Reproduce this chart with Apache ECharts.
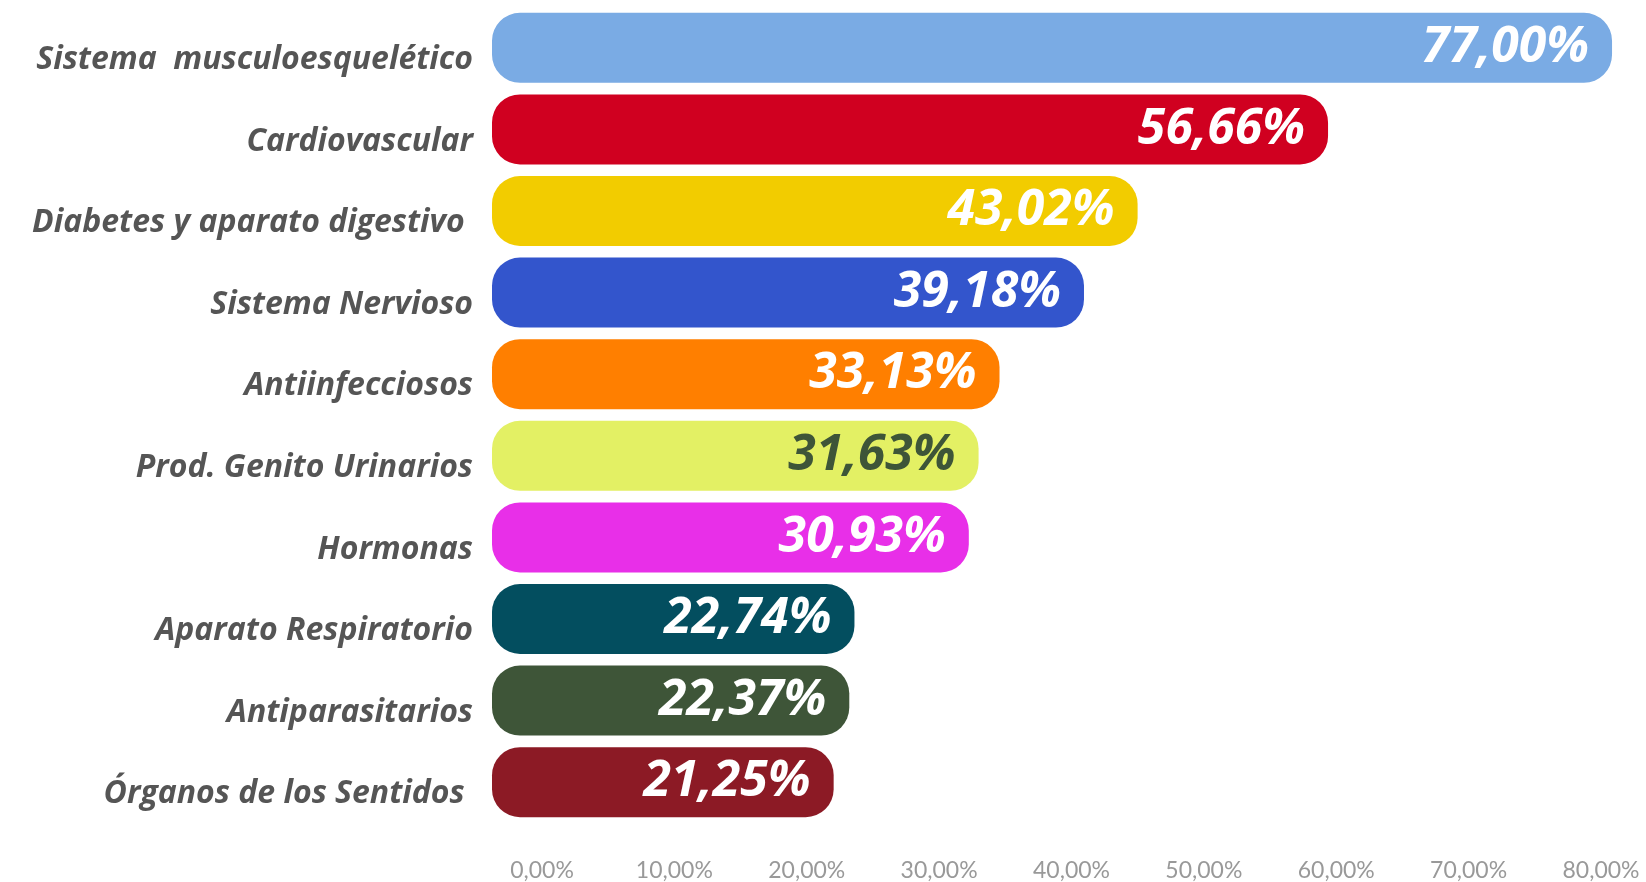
<!DOCTYPE html>
<html>
<head>
<meta charset="utf-8">
<script src="https://cdn.jsdelivr.net/npm/echarts@6/dist/echarts.min.js"></script>
<style>
html,body{margin:0;padding:0;background:#fff;}
#chart{width:1646px;height:882px;}
</style>
</head>
<body>
<div id="chart"></div>
<script>
const categories = [
  'Sistema  musculoesquelético',
  'Cardiovascular',
  'Diabetes y aparato digestivo ',
  'Sistema Nervioso',
  'Antiinfecciosos',
  'Prod. Genito Urinarios',
  'Hormonas',
  'Aparato Respiratorio',
  'Antiparasitarios',
  'Órganos de los Sentidos '
];
const values = [77.00, 56.66, 43.02, 39.18, 33.13, 31.63, 30.93, 22.74, 22.37, 21.25];
const barColors = ['#7AABE4', '#D00020', '#F2CC00', '#3355CC', '#FF7F00', '#E3F064', '#E82FE8', '#034E5F', '#3E5538', '#8C1A25'];
const labelColors = ['#FFFFFF', '#FFFFFF', '#FFFFFF', '#FFFFFF', '#FFFFFF', '#3E5538', '#FFFFFF', '#FFFFFF', '#FFFFFF', '#FFFFFF'];
const tickLabels = ['0,00%', '10,00%', '20,00%', '30,00%', '40,00%', '50,00%', '60,00%', '70,00%', '80,00%'];

const X_MIN = -3.22;
const fmt = v => v.toFixed(2).replace('.', ',') + '%';

const chart = echarts.init(document.getElementById('chart'));
chart.setOption({
  animation: false,
  backgroundColor: '#ffffff',
  grid: [
    {left: 492, right: 20, top: 7, bottom: 59},
    {left: 542, right: 45, top: 850, height: 1}
  ],
  xAxis: [
    {type: 'value', gridIndex: 0, min: X_MIN, max: 78, show: false},
    {
      type: 'value', gridIndex: 1, min: 0, max: 80, interval: 10,
      axisLine: {show: false}, axisTick: {show: false}, splitLine: {show: false},
      axisLabel: {
        show: true, margin: 8, color: '#999999', fontSize: 23,
        fontFamily: 'Lato', fontWeight: 'normal',
        formatter: v => tickLabels[Math.round(v / 10)]
      }
    }
  ],
  yAxis: [
    {
      type: 'category', gridIndex: 0, data: categories, inverse: true,
      axisLine: {show: false}, axisTick: {show: false}, splitLine: {show: false},
      axisLabel: {
        margin: 19, color: '#555555', fontSize: 32, fontFamily: 'Open Sans',
        fontStyle: 'italic', fontWeight: 'bold',
        verticalAlign: 'top', lineHeight: 24
      }
    },
    {type: 'value', gridIndex: 1, show: false, min: 0, max: 1}
  ],
  series: [{
    type: 'custom',
    xAxisIndex: 0, yAxisIndex: 0,
    data: values.map((v, i) => [v, i]),
    encode: {x: 0, y: 1},
    renderItem: function (params, api) {
      const v = api.value(0);
      const idx = api.value(1);
      const start = api.coord([X_MIN, idx]);
      const end = api.coord([v, idx]);
      const h = 70;
      return {
        type: 'rect',
        shape: {x: start[0], y: start[1] - h / 2, width: end[0] - start[0], height: h, r: 28},
        style: {fill: barColors[idx]},
        textContent: {
          style: {
            text: fmt(v), fill: labelColors[idx], fontSize: 50,
            fontFamily: 'Open Sans', fontStyle: 'italic', fontWeight: 'bold'
          }
        },
        textConfig: {position: 'insideRight', distance: 23}
      };
    }
  }]
});
</script>
</body>
</html>
